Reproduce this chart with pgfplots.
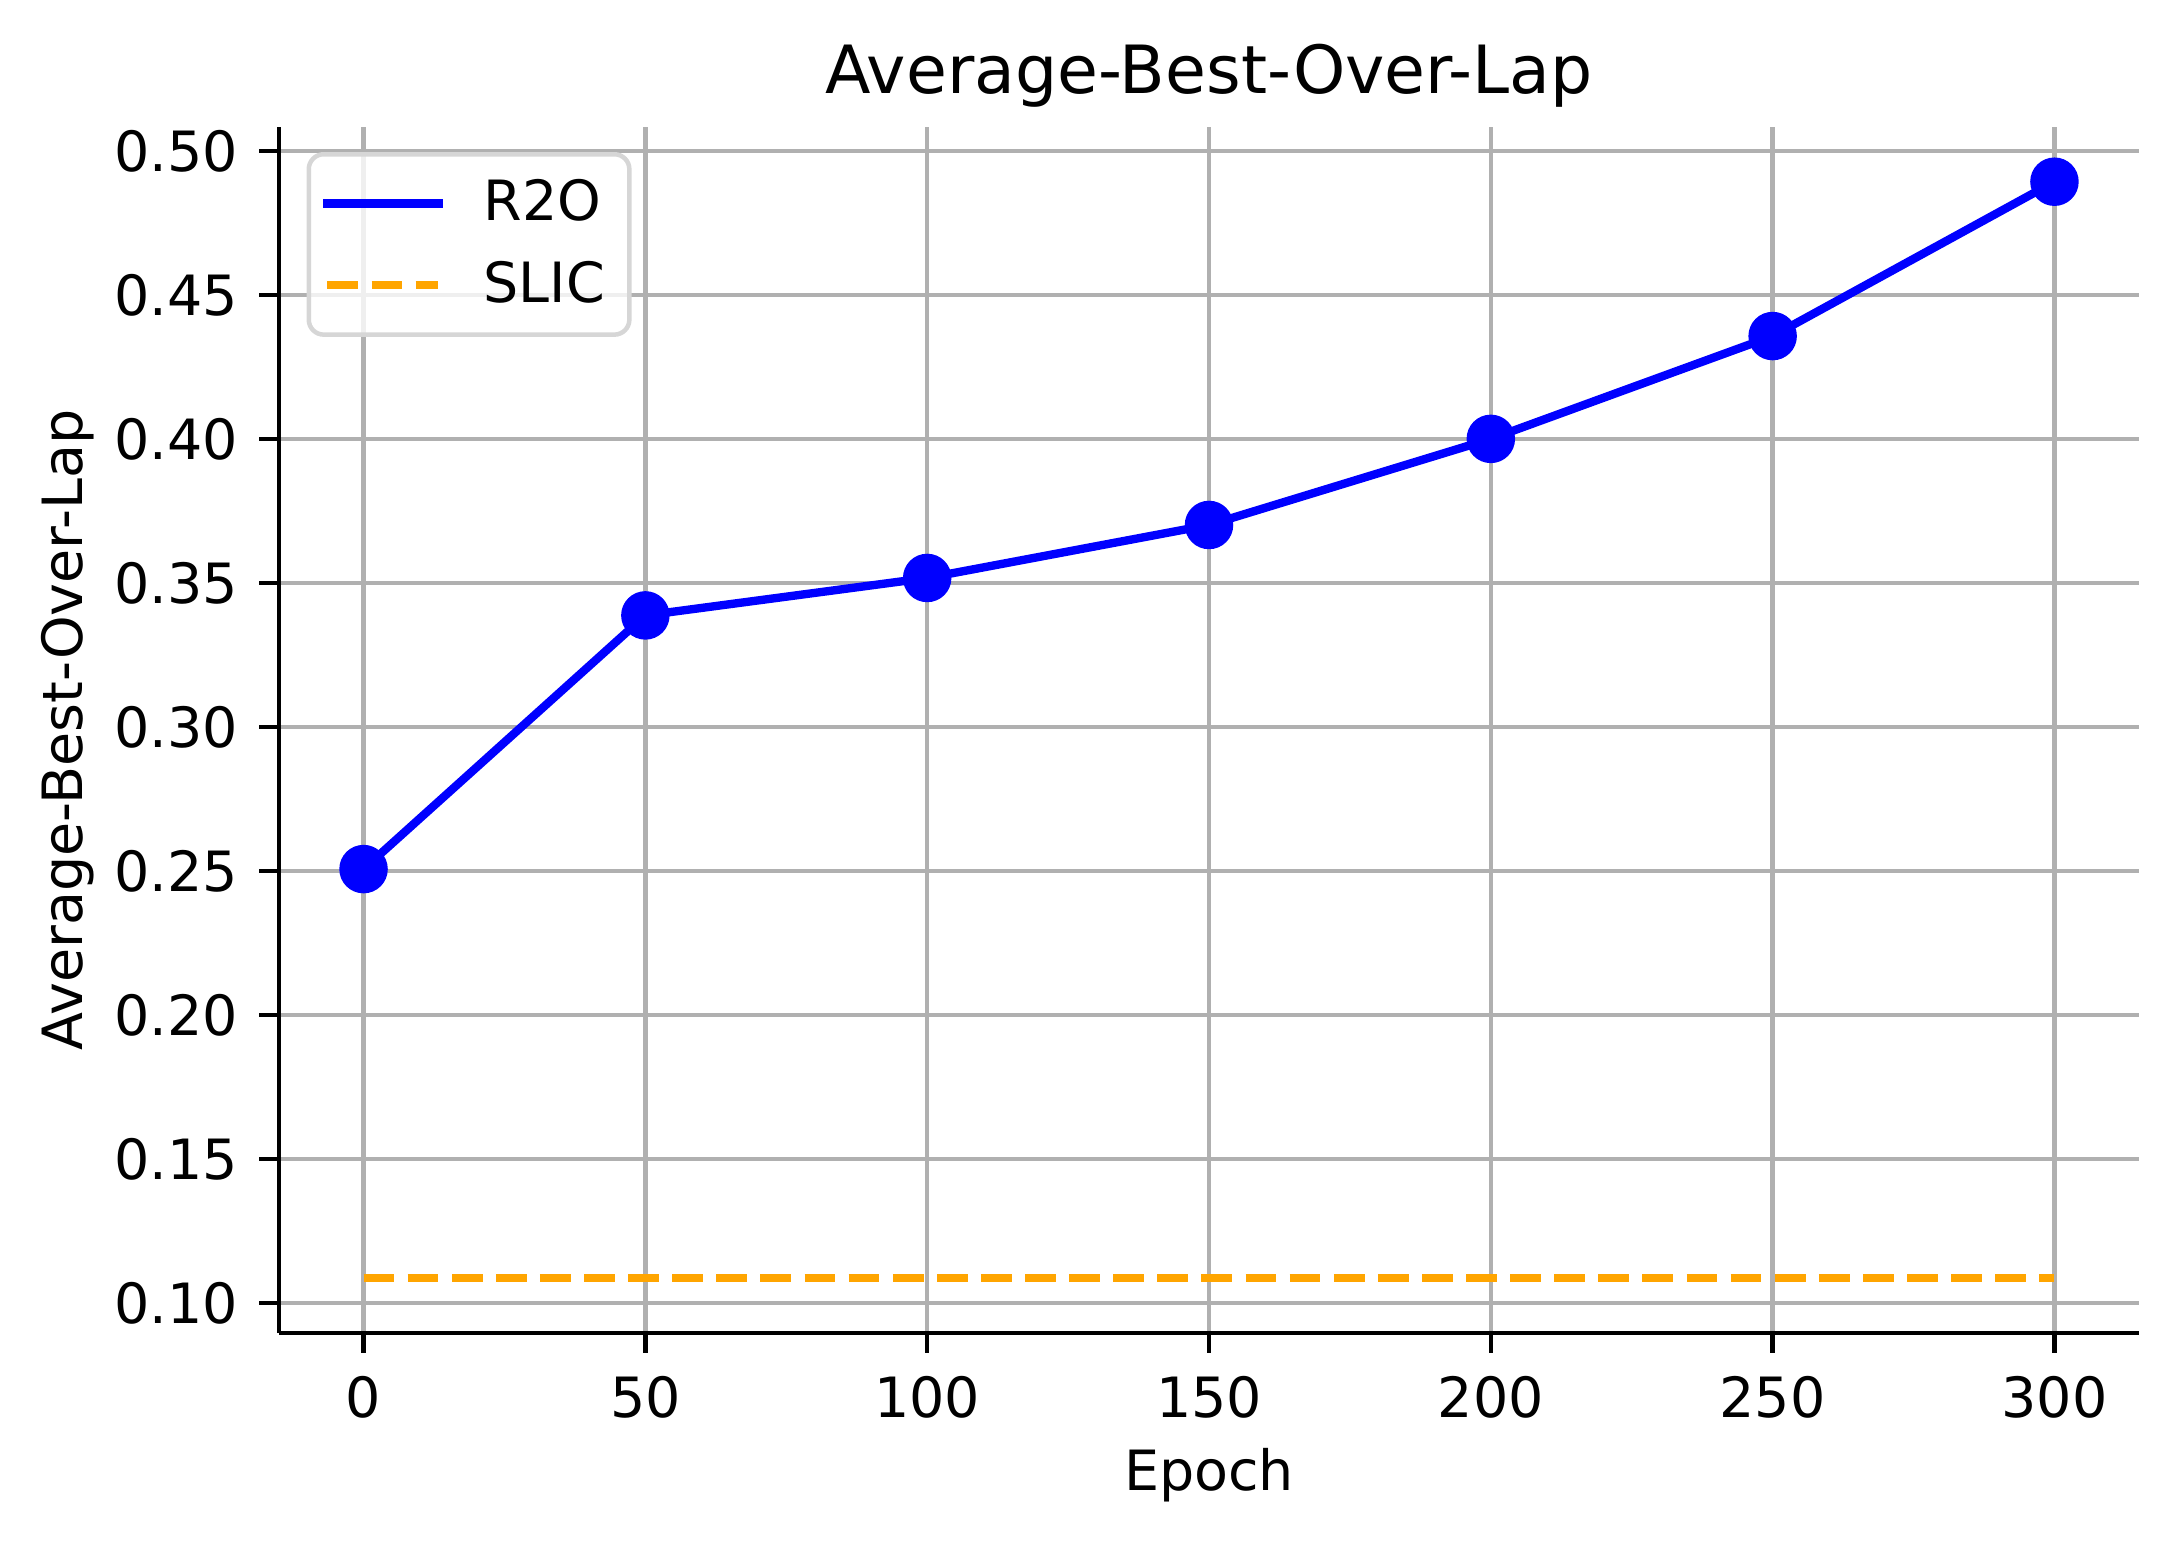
\documentclass[border=0pt]{standalone}
\usepackage{pgfplots}
\pgfplotsset{compat=1.18}
\usepackage{fontspec}
\setmainfont{DejaVu Sans}
\definecolor{gridgray}{RGB}{176,176,176}
\definecolor{mplorange}{RGB}{255,165,0}
\definecolor{legedge}{RGB}{214,214,214}
\begin{document}
\begin{tikzpicture}
\useasboundingbox (0,0) rectangle (435.6pt,308.4pt);
\begin{axis}[
  at={(55.8pt,41.8pt)}, anchor=south west,
  scale only axis, width=372pt, height=241.2pt,
  xmin=-15, xmax=315, ymin=0.0896, ymax=0.5084,
  axis lines=left, axis line style={-, line width=0.89pt, black},
  xtick={0,50,...,300},
  ytick={0.10,0.15,0.20,0.25,0.30,0.35,0.40,0.45,0.50},
  yticklabel style={xshift=-0.8pt, /pgf/number format/.cd, fixed, fixed zerofill, precision=2},
  /pgf/number format/assume math mode=true,
  tick label style={font=\fontsize{11.1}{13.3}\selectfont},
  xticklabel style={yshift=-1.2pt},
  tick align=outside, major tick length=3.9pt,
  tick style={line width=0.89pt, black},
  grid=major, grid style={color=gridgray, line width=0.89pt},
  xlabel={Epoch}, ylabel={Average-Best-Over-Lap},
  label style={font=\fontsize{11.1}{13.3}\selectfont},
  xlabel style={at={([yshift=-31.4pt]axis description cs:0.5,0)}, anchor=base},
  ylabel style={at={([xshift=-39.2pt]axis description cs:0,0.5)}, anchor=base},
  title={Average-Best-Over-Lap},
  title style={font=\fontsize{13.3}{16}\selectfont, at={([yshift=0.8pt]axis description cs:0.5,1)}, anchor=base},
  legend style={at={(0,1)}, anchor=north west, xshift=5.5pt, yshift=-5pt,
    draw=legedge, line width=0.9pt, rounded corners=3pt, fill=white, fill opacity=0.8, text opacity=1,
    font=\fontsize{11.1}{13.3}\selectfont, inner xsep=2.9pt, inner ysep=3pt, row sep=2.6pt},
  legend cell align=left,
  legend image code/.code={\draw[#1] (0pt,0pt) -- (22.2pt,0pt); \path (28.4pt,0pt);},
]
\addplot[color=blue, line width=1.67pt, line join=round, line cap=rect] coordinates {
(0,0.2507) (50,0.3388) (100,0.3518) (150,0.3702) (200,0.4001) (250,0.4358) (300,0.4894)};
\addlegendentry{R2O}
\addplot[color=mplorange, line width=1.67pt, dash pattern=on 6.16pt off 2.66pt] coordinates {
(0,0.1086) (300,0.1086)};
\addlegendentry{SLIC}
\addplot[only marks, mark=*, mark size=4.65pt, color=blue, forget plot] coordinates {
(0,0.2507) (50,0.3388) (100,0.3518) (150,0.3702) (200,0.4001) (250,0.4358) (300,0.4894)};
\end{axis}
\end{tikzpicture}
\end{document}
